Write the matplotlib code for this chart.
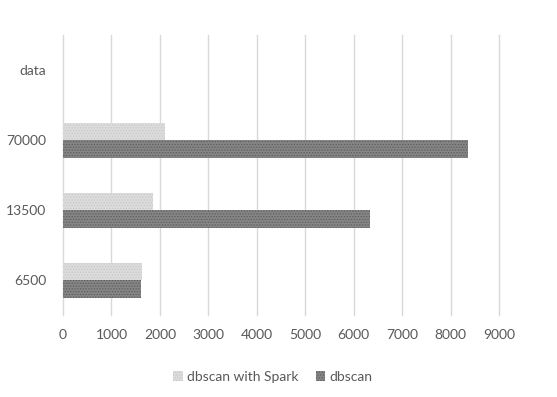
import numpy as np
import matplotlib.pyplot as plt

# dataset sizes (bottom to top) and run times
categories = ["6500", "13500", "70000", "data"]
spark_times = [1623, 1857, 2104, np.nan]
dbscan_times = [1609, 6341, 8356, np.nan]
x_ticks = [0, 1000, 2000, 3000, 4000, 5000, 6000, 7000, 8000, 9000]

plt.rcParams["font.family"] = ["Lato", "DejaVu Sans"]
plt.rcParams["hatch.linewidth"] = 0.6
text_color = "#595959"

fig = plt.figure(figsize=(5.57, 3.97), dpi=100)
ax = fig.add_axes([0.1131, 0.2065, 0.7828, 0.7053])

y = np.arange(len(categories))
height = 0.25

plt.rcParams["hatch.color"] = "#c4c4c4"
ax.barh(y + height / 2, spark_times, height=height, color="#dcdcdc",
        hatch="......", edgecolor="#c8c8c8", linewidth=0, label="dbscan with Spark")
plt.rcParams["hatch.color"] = "#5e5e5e"
ax.barh(y - height / 2, dbscan_times, height=height, color="#858585",
        hatch="......", edgecolor="#5e5e5e", linewidth=0, label="dbscan")

ax.set_xlim(0, 9000)
ax.set_ylim(-0.5, len(categories) - 0.5)
ax.set_xticks(x_ticks)
ax.set_yticks(y)
ax.set_yticklabels(categories)
ax.tick_params(axis="both", length=0, labelsize=10, labelcolor=text_color)
ax.tick_params(axis="x", pad=10)
ax.tick_params(axis="y", pad=12)

ax.grid(axis="x", color="#d9d9d9", linewidth=1)
for gl in ax.get_xgridlines():
    gl.set_clip_on(False)
ax.set_axisbelow(True)
for side in ax.spines.values():
    side.set_visible(False)

fig.legend(loc="center", bbox_to_anchor=(0.49, 0.05), ncol=2, frameon=False,
           handlelength=0.7, handleheight=0.7, handletextpad=0.3,
           columnspacing=1.2, fontsize=10, labelcolor=text_color)

fig.savefig("out.png", dpi=100)
